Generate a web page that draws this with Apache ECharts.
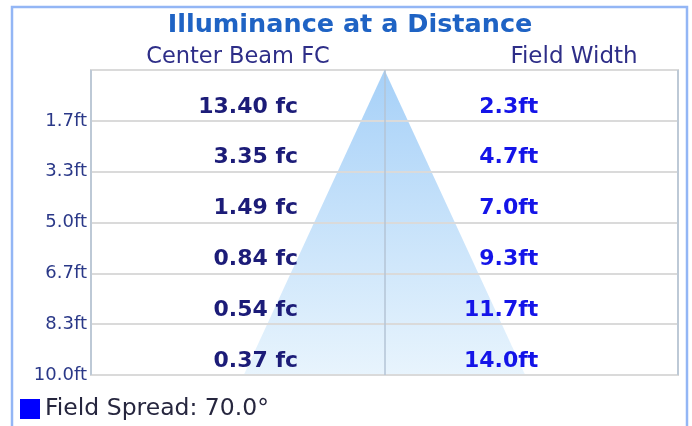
<!DOCTYPE html>
<html>
<head>
<meta charset="utf-8">
<script src="https://cdn.jsdelivr.net/npm/echarts@6/dist/echarts.min.js"></script>
<style>
html, body { margin: 0; padding: 0; background: #fff; }
#chart { width: 692px; height: 426px; }
</style>
</head>
<body>
<div id="chart"></div>
<script>
// values
const distances = [1.67, 3.33, 5.0, 6.67, 8.33, 10.0];
const yTickLabels = ['1.7ft', '3.3ft', '5.0ft', '6.7ft', '8.3ft', '10.0ft'];
const centerBeamFc = [13.40, 3.35, 1.49, 0.84, 0.54, 0.37];
const fieldWidth = [2.3, 4.7, 7.0, 9.3, 11.7, 14.0];
const fieldSpread = 70.0;

const FONT = 'DejaVu Sans';
const HALF = 14.6;       // half range of the horizontal axis
const LEFT_COL = -4.3;   // right edge of the FC column
const RIGHT_COL = 7.65;  // right edge of the width column

const spreadName = 'Field Spread: ' + fieldSpread.toFixed(1) + '°';

let chart = echarts.init(document.getElementById('chart'));

const option = {
    animation: false,
    graphic: [
        {
            type: 'rect',
            shape: { x: 12, y: 7, width: 675, height: 440 },
            style: { fill: 'none', stroke: '#93b6f5', lineWidth: 2.5 },
            silent: true
        },
        {
            type: 'text', x: 350, y: 25,
            style: { text: 'Illuminance at a Distance', font: 'bold 25.5px "DejaVu Sans"', fill: '#1f63c4', textAlign: 'center', textVerticalAlign: 'middle' }
        },
        {
            type: 'text', x: 238, y: 57,
            style: { text: 'Center Beam FC', font: '22.5px "DejaVu Sans"', fill: '#2e2e88', textAlign: 'center', textVerticalAlign: 'middle' }
        },
        {
            type: 'text', x: 574, y: 57,
            style: { text: 'Field Width', font: '23px "DejaVu Sans"', fill: '#2e2e88', textAlign: 'center', textVerticalAlign: 'middle' }
        }
    ],
    legend: {
        data: [{ name: spreadName, itemStyle: { color: '#0000ff' } }],
        left: 15,
        top: 392,
        icon: 'rect',
        itemWidth: 20,
        itemHeight: 20,
        selectedMode: false,
        textStyle: { fontFamily: FONT, fontSize: 23.5, color: '#26263e' }
    },
    grid: {
        left: 91, right: 14, top: 70, bottom: 51,
        show: true, borderColor: '#d6d6d6', borderWidth: 2
    },
    xAxis: {
        type: 'value',
        min: -HALF, max: HALF, interval: HALF,
        axisLine: { show: false },
        axisTick: { show: false },
        axisLabel: { show: false },
        splitLine: { lineStyle: { color: '#b4c4d6', width: 1.5 } }
    },
    yAxis: {
        type: 'value',
        inverse: true,
        min: 0, max: 10, interval: 10 / 6,
        axisLine: { show: false },
        axisTick: { show: false },
        axisLabel: {
            fontFamily: FONT, fontSize: 18, color: '#2a3888', margin: 4,
            formatter: (v, i) => i === 0 ? '' : yTickLabels[i - 1]
        },
        splitLine: { lineStyle: { color: '#dadada', width: 2 } }
    },
    series: [
        {
            name: spreadName,
            type: 'custom',
            silent: true,
            z: -1,
            data: [0],
            renderItem: (params, api) => {
                const last = distances.length - 1;
                const d = distances[last], w = fieldWidth[last] / 2;
                const pts = [api.coord([0, 0]), api.coord([-w, d]), api.coord([w, d])];
                return {
                    type: 'polygon',
                    shape: { points: pts },
                    style: {
                        fill: new echarts.graphic.LinearGradient(0, 0, 0, 1, [
                            { offset: 0, color: 'rgba(93,170,242,0.55)' },
                            { offset: 1, color: 'rgba(213,235,251,0.55)' }
                        ])
                    }
                };
            }
        },
        {
            type: 'scatter',
            symbolSize: 0,
            silent: true,
            itemStyle: { opacity: 1 },
            data: distances.map((d, i) => [LEFT_COL, d, centerBeamFc[i]]),
            label: {
                show: true, position: 'inside', align: 'right', verticalAlign: 'bottom', offset: [0, -3],
                fontFamily: FONT, fontSize: 22, fontWeight: 'bold', color: '#1c1c78',
                formatter: p => p.value[2].toFixed(2) + ' fc'
            }
        },
        {
            type: 'scatter',
            symbolSize: 0,
            silent: true,
            itemStyle: { opacity: 1 },
            data: distances.map((d, i) => [RIGHT_COL, d, fieldWidth[i]]),
            label: {
                show: true, position: 'inside', align: 'right', verticalAlign: 'bottom', offset: [0, -3],
                fontFamily: FONT, fontSize: 22, fontWeight: 'bold', color: '#1414e8',
                formatter: p => p.value[2].toFixed(1) + 'ft'
            }
        }
    ]
};

chart.setOption(option);
</script>
</body>
</html>
